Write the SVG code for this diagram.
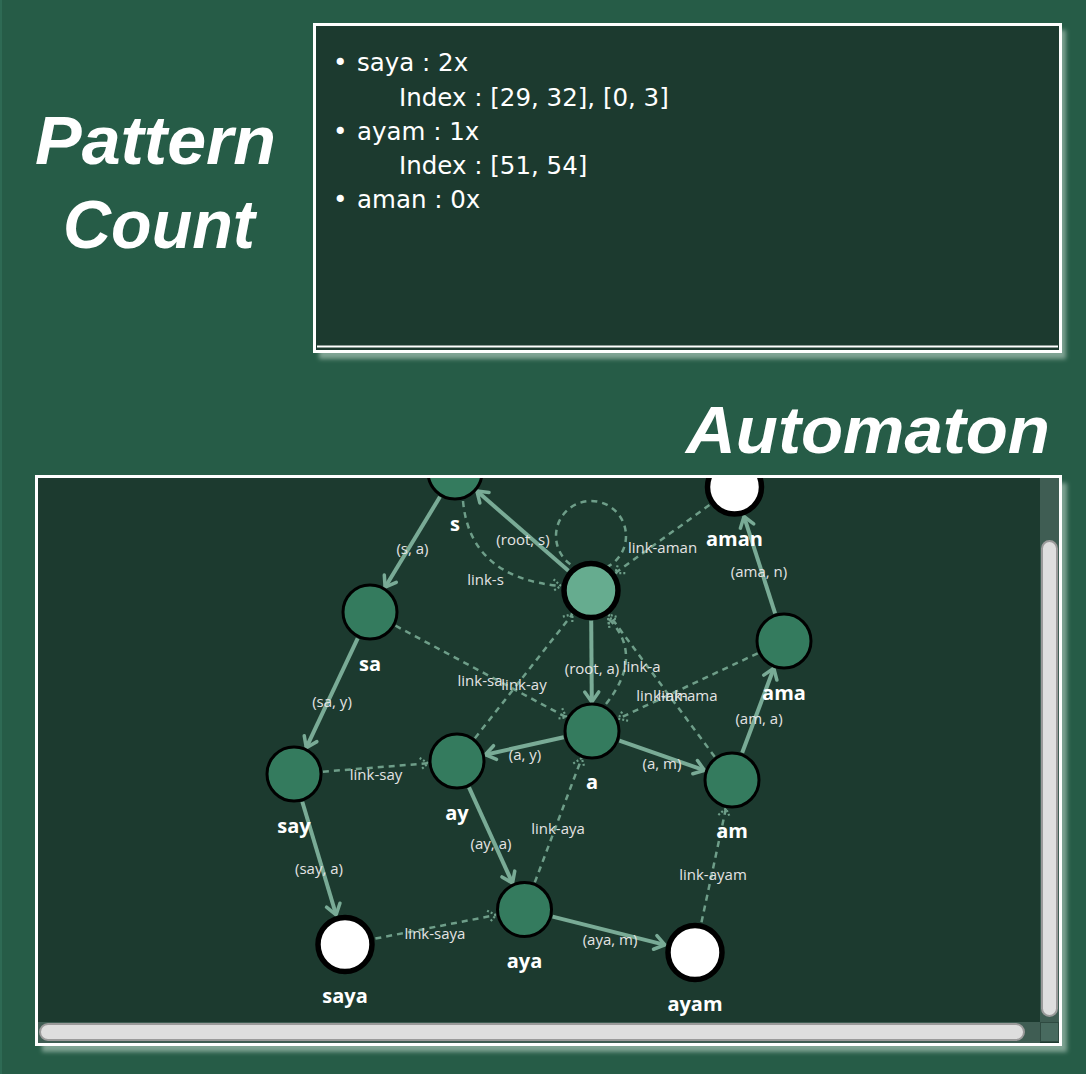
<svg xmlns="http://www.w3.org/2000/svg" width="1086" height="1074" viewBox="0 0 1086 1074">
<style>
.title{font-family:"Liberation Sans",Arial,sans-serif;font-weight:bold;font-style:italic;fill:#ffffff}
.plist{font-family:"DejaVu Sans",sans-serif;font-size:24.5px;fill:#ffffff}
.node{fill:#347b5e;stroke:#000;stroke-width:3}
.root{fill:#66ac8f;stroke:#000;stroke-width:5.5}
.term{fill:#ffffff;stroke:#000;stroke-width:5.5}
.nlabel{font-family:"Open Sans","Noto Sans",sans-serif;font-weight:bold;font-size:20px;fill:#ffffff;text-anchor:middle}
.elabel{font-family:"Open Sans","Noto Sans",sans-serif;font-size:15px;fill:#e4e4e4;text-anchor:middle}
.trie{stroke:#79ab96;stroke-width:4;fill:none;marker-end:url(#arr)}
.link{stroke:#6e9e89;stroke-width:2.5;fill:none;stroke-dasharray:6 5;marker-end:url(#darr)}
</style>
<defs>
<filter id="blur" x="-5%" y="-5%" width="110%" height="110%"><feGaussianBlur stdDeviation="2"/></filter>
<marker id="arr" markerUnits="userSpaceOnUse" viewBox="-14 -10 18 20" markerWidth="18" markerHeight="20" refX="0" refY="0" orient="auto">
<path d="M-10,-7 L0,0 L-10,7" fill="none" stroke="#79ab96" stroke-width="3.5" stroke-linecap="round" stroke-linejoin="round"/>
</marker>
<marker id="darr" markerUnits="userSpaceOnUse" viewBox="-12 -8 14 16" markerWidth="14" markerHeight="16" refX="0" refY="0" orient="auto">
<path d="M-8,-6 L0,0 L-8,6" fill="none" stroke="#6e9e89" stroke-width="2.2" stroke-dasharray="2 2"/>
</marker>
<clipPath id="gclip"><rect x="38" y="478" width="1002" height="544"/></clipPath>
</defs>

<rect x="0" y="0" width="1086" height="1074" fill="#265c47"/>
<rect x="0" y="0" width="2" height="1074" fill="#2e6a54"/>

<!-- Pattern count title -->
<text class="title" x="35" y="164" font-size="68" textLength="241" lengthAdjust="spacingAndGlyphs">Pattern</text>
<text class="title" x="63" y="248" font-size="68" textLength="192" lengthAdjust="spacingAndGlyphs">Count</text>

<!-- top panel -->
<g id="pattern-panel">
<rect x="319" y="30" width="747" height="329" fill="#7fa393" filter="url(#blur)"/>
<rect x="314.5" y="24.5" width="746" height="327" fill="#1c3a2f" stroke="#ffffff" stroke-width="3"/>
<line x1="317" y1="346.5" x2="1058" y2="346.5" stroke="#ffffff" stroke-width="2"/>
<text class="plist" x="333" y="71">•</text>
<text class="plist" x="357" y="71">saya : 2x</text>
<text class="plist" x="399" y="106">Index : [29, 32], [0, 3]</text>
<text class="plist" x="333" y="140">•</text>
<text class="plist" x="357" y="140">ayam : 1x</text>
<text class="plist" x="399" y="174">Index : [51, 54]</text>
<text class="plist" x="333" y="208">•</text>
<text class="plist" x="357" y="208">aman : 0x</text>
</g>

<text class="title" x="686" y="453" font-size="67" textLength="364" lengthAdjust="spacingAndGlyphs">Automaton</text>

<!-- bottom panel -->
<rect x="42" y="483" width="1025" height="569" fill="#7fa393" filter="url(#blur)"/>
<rect x="36.5" y="476.5" width="1024" height="568" fill="#1c3a2f" stroke="#ffffff" stroke-width="3"/>

<g clip-path="url(#gclip)">
<g id="connectors">
<!-- trie edges -->
<line class="trie" x1="568.4" y1="570.8" x2="476.9" y2="491.1"/>
<line class="trie" x1="440" y1="496.8" x2="385.1" y2="587.2"/>
<line class="trie" x1="357.7" y1="638.3" x2="306.3" y2="747.7"/>
<line class="trie" x1="302.3" y1="801.8" x2="336.1" y2="914.8"/>
<line class="trie" x1="591.2" y1="620.5" x2="591.8" y2="702"/>
<line class="trie" x1="563.7" y1="737.3" x2="485.3" y2="754.7"/>
<line class="trie" x1="469" y1="787.4" x2="512.5" y2="883.1"/>
<line class="trie" x1="552.6" y1="916.6" x2="664.9" y2="944.9"/>
<line class="trie" x1="619.4" y1="740.6" x2="704.6" y2="770.4"/>
<line class="trie" x1="742.2" y1="752.8" x2="773.8" y2="668.2"/>
<line class="trie" x1="775.1" y1="613.4" x2="744" y2="516.5"/>
<!-- failure links -->
<path class="link" d="M463,501 Q470,578 561,586"/>
<circle cx="591" cy="536" r="35" fill="none" stroke="#6e9e89" stroke-width="2.5" stroke-dasharray="6 5"/>
<line class="link" x1="709.4" y1="505.1" x2="615.3" y2="573"/>
<line class="link" x1="395.5" y1="625.7" x2="566.4" y2="717.3"/>
<line class="link" x1="474.9" y1="738.2" x2="572.5" y2="614.1"/>
<line class="link" x1="322.9" y1="771.7" x2="428.1" y2="763.3"/>
<path class="link" d="M606,704 Q645,655 608,618"/>
<line class="link" x1="714.7" y1="756.7" x2="608.9" y2="614.6"/>
<line class="link" x1="757.7" y1="653.3" x2="618.3" y2="718.7"/>
<line class="link" x1="534.8" y1="882.4" x2="581.7" y2="758.1"/>
<line class="link" x1="375.4" y1="938.6" x2="496.1" y2="915"/>
<line class="link" x1="701.5" y1="922.2" x2="725.9" y2="808.4"/>
<!-- edge labels -->
<text class="elabel" x="523" y="545">(root, s)</text>
<text class="elabel" x="412.5" y="554">(s, a)</text>
<text class="elabel" x="332" y="707">(sa, y)</text>
<text class="elabel" x="319" y="873.5">(say, a)</text>
<text class="elabel" x="592" y="674">(root, a)</text>
<text class="elabel" x="525" y="760">(a, y)</text>
<text class="elabel" x="491" y="849">(ay, a)</text>
<text class="elabel" x="610" y="945">(aya, m)</text>
<text class="elabel" x="662" y="768.5">(a, m)</text>
<text class="elabel" x="759" y="723.5">(am, a)</text>
<text class="elabel" x="759" y="577">(ama, n)</text>
<text class="elabel" x="485.5" y="585">link-s</text>
<text class="elabel" x="662.5" y="553">link-aman</text>
<text class="elabel" x="480" y="686">link-sa</text>
<text class="elabel" x="524" y="690">link-ay</text>
<text class="elabel" x="376" y="780">link-say</text>
<text class="elabel" x="558" y="833.5">link-aya</text>
<text class="elabel" x="641.7" y="671.5">link-a</text>
<text class="elabel" x="662" y="700.5">link-am</text>
<text class="elabel" x="687.5" y="700.5">link-ama</text>
<text class="elabel" x="435" y="939">link-saya</text>
<text class="elabel" x="713" y="880">link-ayam</text>
</g>

<g id="node-root"><circle class="root" cx="591" cy="590.5" r="27"/></g>
<g id="node-s"><circle class="node" cx="455" cy="472" r="27"/><text class="nlabel" x="455" y="531">s</text></g>
<g id="node-aman"><circle class="term" cx="734.5" cy="487" r="27"/><text class="nlabel" x="734.5" y="546">aman</text></g>
<g id="node-sa"><circle class="node" cx="370" cy="612" r="27"/><text class="nlabel" x="370" y="671">sa</text></g>
<g id="node-ama"><circle class="node" cx="784" cy="641" r="27"/><text class="nlabel" x="784" y="699.5">ama</text></g>
<g id="node-a"><circle class="node" cx="592" cy="731" r="27"/><text class="nlabel" x="592" y="789">a</text></g>
<g id="node-ay"><circle class="node" cx="457" cy="761" r="27"/><text class="nlabel" x="457" y="819.5">ay</text></g>
<g id="node-say"><circle class="node" cx="294" cy="774" r="27"/><text class="nlabel" x="294" y="832.5">say</text></g>
<g id="node-am"><circle class="node" cx="732" cy="780" r="27"/><text class="nlabel" x="732" y="838">am</text></g>
<g id="node-aya"><circle class="node" cx="524.5" cy="909.5" r="27"/><text class="nlabel" x="524.5" y="968">aya</text></g>
<g id="node-saya"><circle class="term" cx="345" cy="944.5" r="27"/><text class="nlabel" x="345" y="1003">saya</text></g>
<g id="node-ayam"><circle class="term" cx="695" cy="952.5" r="27"/><text class="nlabel" x="695" y="1011">ayam</text></g>
</g>

<!-- scrollbars -->
<g id="scrollbars">
<rect x="1040" y="478" width="19" height="544" fill="#3f5d53"/>
<rect x="1042" y="541" width="15" height="475" rx="7.5" fill="#dedede" stroke="#9a9a9a" stroke-width="2"/>
<rect x="38" y="1022" width="1002" height="21" fill="#3f5d53"/>
<rect x="40" y="1024" width="984" height="16" rx="8" fill="#dedede" stroke="#9a9a9a" stroke-width="2"/>
<rect x="1040.5" y="1022.5" width="18" height="19" fill="#486a5f" stroke="#2f4a41" stroke-width="1"/>
</g>
</svg>
